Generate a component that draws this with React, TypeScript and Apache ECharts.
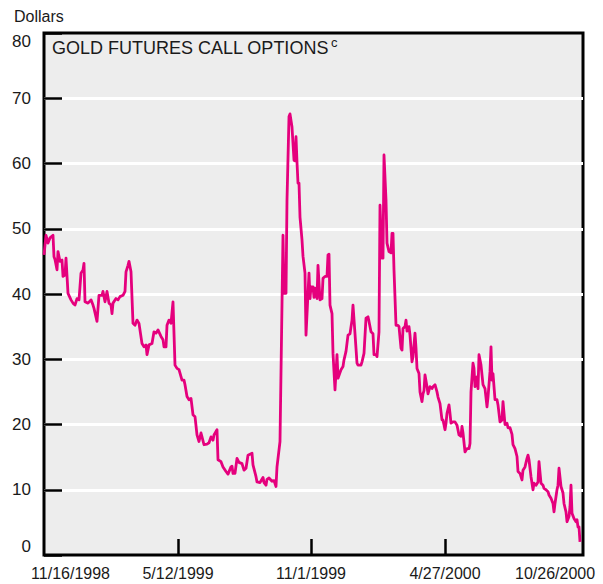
import React, { useEffect, useRef } from 'react';
import * as echarts from 'echarts';

const tickLabels = ['11/16/1998', '5/12/1999', '11/1/1999', '4/27/2000', '10/26/2000'];
const tickDays = [0, 134, 267, 401, 536];
const yTickValues = [0, 10, 20, 30, 40, 50, 60, 70, 80];

// trading-day index since 11/16/1998
const days = [
  0, 2, 4, 6, 9, 10, 11, 13, 14, 16, 18, 19, 21, 22, 24, 27, 29, 31, 33, 35, 37, 39, 40, 41, 44, 47, 49, 50, 53, 55,
  58, 59, 61, 63, 65, 67, 68, 69, 72, 74, 76, 79, 81, 82, 84, 85, 87, 89, 91, 93, 95, 98, 100, 102, 103, 105, 108, 110, 112, 114,
  117, 119, 120, 122, 123, 125, 127, 129, 131, 133, 135, 138, 140, 141, 143, 145, 147, 149, 151, 153, 155, 157, 158, 160, 163, 165, 167, 169, 170, 173,
  174, 177, 179, 182, 184, 187, 188, 189, 191, 193, 195, 198, 200, 202, 204, 208, 209, 212, 213, 216, 219, 220, 222, 223, 225, 228, 230, 232, 233, 236,
  239, 240, 242, 243, 245, 246, 248, 250, 251, 252, 253, 254, 255, 256, 258, 259, 261, 262, 264, 265, 266, 267, 269, 270, 271, 273, 274, 276, 278, 279,
  281, 283, 284, 285, 286, 288, 289, 291, 293, 294, 297, 299, 300, 302, 304, 306, 308, 309, 311, 313, 314, 317, 318, 320, 322, 324, 325, 327, 329, 330,
  332, 333, 335, 336, 338, 339, 340, 342, 343, 345, 347, 348, 349, 350, 352, 354, 355, 357, 358, 359, 361, 362, 363, 365, 366, 368, 369, 371, 372, 373,
  375, 376, 378, 379, 380, 381, 383, 384, 386, 388, 389, 391, 393, 394, 396, 398, 399, 401, 402, 403, 405, 406, 407, 409, 411, 413, 415, 417, 418, 419,
  421, 423, 425, 426, 427, 429, 430, 431, 433, 434, 435, 437, 439, 441, 443, 444, 446, 447, 448, 449, 451, 453, 454, 456, 458, 459, 461, 463, 464, 466,
  468, 469, 471, 473, 474, 476, 478, 479, 481, 483, 484, 485, 487, 489, 490, 492, 494, 495, 497, 499, 500, 502, 504, 505, 507, 509, 510, 511, 513, 514,
  515, 517, 519, 520, 522, 523, 525, 526, 527, 528, 530, 532, 533, 534, 535, 536,
];

// Dollars
const prices = [
  46.0, 49.0, 47.8, 48.6, 49.0, 45.7, 45.3, 43.7, 46.5, 45.0, 45.2, 42.7, 42.9, 45.5, 40.1, 39.1, 38.6, 38.3, 39.3, 39.1, 43.2, 43.7, 44.7, 38.8, 38.6, 39.1, 38.3, 37.8, 35.8, 39.8,
  39.8, 40.4, 38.8, 40.4, 38.6, 38.3, 37.0, 38.6, 39.3, 39.1, 39.6, 39.8, 40.4, 43.4, 44.4, 45.0, 43.4, 35.5, 35.2, 36.0, 35.5, 32.4, 31.9, 32.2, 30.7, 32.2, 32.4, 34.2, 34.0, 34.5,
  33.5, 33.0, 31.9, 31.9, 35.2, 36.0, 35.5, 38.8, 29.1, 28.6, 28.4, 26.8, 26.8, 26.1, 24.3, 23.8, 24.0, 21.5, 21.2, 18.4, 17.4, 18.7, 18.1, 16.9, 17.0, 17.2, 18.1, 17.6, 18.4, 19.2,
  14.6, 14.3, 13.5, 12.8, 12.4, 13.5, 13.6, 12.5, 12.5, 14.8, 14.2, 14.0, 13.0, 13.3, 15.3, 15.6, 13.8, 12.0, 11.2, 11.1, 11.9, 11.1, 10.7, 11.6, 11.8, 11.3, 11.4, 10.5, 13.5, 17.4,
  49.0, 40.1, 40.1, 54.4, 67.2, 67.6, 65.6, 60.5, 60.4, 64.1, 60.2, 57.0, 57.0, 51.8, 48.3, 45.8, 43.2, 33.7, 40.1, 43.2, 39.3, 41.1, 41.1, 39.5, 40.9, 39.3, 44.4, 39.1, 39.3, 42.4,
  42.7, 42.7, 46.0, 46.1, 38.3, 37.0, 30.9, 25.3, 30.7, 27.1, 28.4, 28.9, 29.9, 31.2, 33.7, 33.9, 36.0, 38.3, 33.9, 29.4, 29.1, 29.1, 29.6, 30.9, 36.3, 36.5, 35.8, 34.2, 33.9, 30.7,
  30.7, 30.4, 34.2, 53.6, 45.5, 45.5, 61.3, 54.4, 47.8, 46.5, 46.3, 49.3, 49.3, 43.7, 35.2, 35.2, 35.0, 31.7, 31.4, 34.7, 35.0, 36.0, 34.3, 35.0, 33.7, 29.6, 30.4, 34.0, 31.7, 28.6,
  27.8, 25.0, 23.5, 24.7, 25.2, 27.6, 25.8, 24.7, 25.8, 25.5, 25.8, 26.1, 25.0, 24.2, 23.2, 20.7, 20.7, 19.2, 20.2, 21.7, 23.0, 21.7, 20.2, 20.4, 20.4, 19.9, 18.4, 18.2, 19.7, 18.7,
  15.8, 16.3, 16.3, 17.1, 25.0, 29.4, 28.6, 25.8, 27.3, 25.5, 30.7, 29.1, 26.1, 25.5, 22.7, 24.2, 28.1, 31.9, 26.8, 27.8, 23.8, 23.8, 23.0, 20.4, 20.7, 23.5, 20.0, 20.2, 19.5, 19.5,
  18.5, 16.9, 16.3, 15.1, 12.8, 12.5, 11.5, 13.0, 13.5, 14.8, 15.3, 14.6, 12.0, 10.0, 11.0, 10.7, 11.2, 14.3, 11.0, 10.7, 10.2, 10.0, 9.7, 9.2, 8.7, 7.9, 6.6, 7.9, 10.0, 10.7,
  13.3, 10.5, 9.5, 7.9, 6.6, 5.1, 5.9, 7.4, 10.7, 6.4, 5.6, 5.1, 5.4, 4.3, 4.3, 2.0,
];

const narrow = '"Liberation Sans Narrow", "Arial Narrow", "Liberation Sans", Arial, sans-serif';
const regular = '"Liberation Sans", Arial, sans-serif';
const textColor = '#1a1a1a';

export default function App() {
  const ref = useRef<HTMLDivElement>(null);
  useEffect(() => {
    const chart = echarts.init(ref.current!, null, { renderer: 'svg' });
    const data = days.map((d, i) => [d, prices[i]]);
    chart.setOption({
      animation: false,
      grid: {
        left: 44, right: 20, top: 33, bottom: 29, show: true,
        backgroundColor: '#ededed', borderColor: '#000', borderWidth: 3,
      },
      xAxis: {
        type: 'value', min: 0, max: 539,
        axisLine: { show: false },
        splitLine: { show: false },
        axisTick: {
          show: true, inside: true, length: 16,
          customValues: tickDays.slice(1, 4),
          lineStyle: { color: '#000', width: 2.5 },
        },
        axisLabel: {
          customValues: tickDays,
          margin: 10,
          color: textColor, fontFamily: narrow, fontSize: 16,
          formatter: (v: number) => {
            const i = tickDays.indexOf(v);
            const t = i >= 0 ? tickLabels[i] : '';
            if (i === 0) return '{first|' + t + '}';
            if (i === tickDays.length - 1) return '{last|' + t + '}';
            return t;
          },
          rich: {
            first: { width: 132, align: 'right', color: textColor, fontFamily: narrow, fontSize: 16 },
            last: { width: 130, align: 'left', color: textColor, fontFamily: narrow, fontSize: 16 },
          },
        },
      },
      yAxis: {
        type: 'value', min: 0, max: 80, interval: 10,
        axisLine: { show: false },
        axisTick: { show: true, inside: true, length: 18, lineStyle: { color: '#000', width: 2.5 } },
        splitLine: { show: true, showMinLine: false, showMaxLine: false, lineStyle: { color: '#fff', width: 3 } },
        axisLabel: {
          margin: 13, color: textColor, fontFamily: narrow, fontSize: 17,
          customValues: yTickValues,
          verticalAlignMinLabel: 'bottom',
          verticalAlignMaxLabel: 'top',
        },
      },
      series: [{
        type: 'line', data, symbol: 'none', showSymbol: false,
        lineStyle: { color: '#E5007D', width: 2.8, join: 'round' },
      }],
      graphic: [
        {
          type: 'text', left: 14, top: 8,
          style: { text: 'Dollars', fill: textColor, font: '16px ' + narrow },
        },
        {
          type: 'text', left: 52, top: 36,
          style: {
            text: '{t|GOLD FUTURES CALL OPTIONS}{s|c}',
            rich: {
              t: { fontFamily: regular, fontSize: 18, fill: textColor, lineHeight: 21, verticalAlign: 'bottom' },
              s: { fontFamily: regular, fontSize: 13, fill: textColor, lineHeight: 21, verticalAlign: 'top', padding: [0, 0, 0, 2] },
            },
          },
        },
      ],
    });
    return () => chart.dispose();
  }, []);
  return <div ref={ref} style={{ position: 'absolute', left: 0, top: 0, width: 603, height: 584 }} />;
}
